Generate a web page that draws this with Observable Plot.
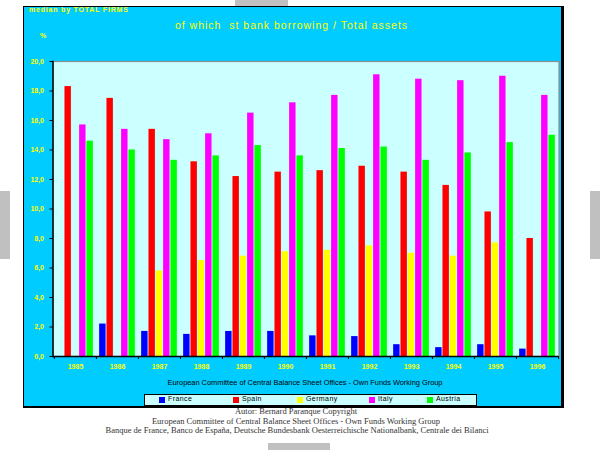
<!DOCTYPE html>
<html>
<head>
<meta charset="utf-8">
<script src="https://cdn.jsdelivr.net/npm/d3@7"></script>
<script src="https://cdn.jsdelivr.net/npm/@observablehq/plot@0.6"></script>
<style>
  body { margin: 0; background: #fff; }
  #wrap { position: relative; width: 600px; height: 450px; overflow: hidden; }
  .abs { position: absolute; white-space: nowrap; }
  .gray { position: absolute; background: #c0c0c0; }
  .px { font-family: "Liberation Sans", sans-serif; font-weight: bold; font-size: 7px; color: #ffff00; }
  .serif { font-family: "Liberation Serif", serif; font-size: 8.5px; color: #333; line-height: 10px; }
</style>
</head>
<body>
<div id="wrap">
  <div class="gray" style="left:235px;top:0;width:53px;height:6px"></div>
  <div class="gray" style="left:0;top:191px;width:10px;height:68px"></div>
  <div class="gray" style="left:590px;top:191px;width:10px;height:68px"></div>
  <div class="gray" style="left:268px;top:443px;width:62px;height:7px"></div>
  <div class="abs" style="left:23px;top:6px;width:537px;height:399px;background:#00ccff;border-top:1.5px solid #000;border-left:1px solid #000;border-right:3px solid #000;border-bottom:2px solid #000"></div>
  <div id="chart" class="abs" style="left:0;top:0"></div>
  <div class="abs px" style="left:29px;top:6px;line-height:8px;letter-spacing:0.8px">median by TOTAL FIRMS</div>
  <div class="abs" style="left:291.5px;top:19px;transform:translateX(-50%);font-family:'Liberation Sans',sans-serif;font-size:10.5px;line-height:12px;color:#ffff00;letter-spacing:1px">of which&nbsp; st bank borrowing / Total assets</div>
  <div class="abs px" style="left:40px;top:32px;line-height:8px">%</div>
  <div class="abs" style="left:305px;top:379px;transform:translateX(-50%);font-family:'Liberation Sans',sans-serif;font-size:7.4px;line-height:8px;color:#000">European Committee of Central Balance Sheet Offices - Own Funds Working Group</div>
  <div id="legend" class="abs" style="left:144px;top:394px;width:331px;height:10px;background:#ccffff;border:1.5px solid #000"></div>
  <div class="abs serif" style="left:296px;top:406px;transform:translateX(-50%)">Autor: Bernard Paranque Copyright</div>
  <div class="abs serif" style="left:296px;top:416px;transform:translateX(-50%)">European Committee of Central Balance Sheet Offices - Own Funds Working Group</div>
  <div class="abs serif" style="left:297px;top:425px;transform:translateX(-50%)">Banque de France, Banco de España, Deutsche Bundesbank Oesterreichische Nationalbank, Centrale dei Bilanci</div>
</div>
<script>
const years = ["1985","1986","1987","1988","1989","1990","1991","1992","1993","1994","1995","1996"];
const countries = ["France","Spain","Germany","Italy","Austria"];
const colors = ["#0000ff","#ff0000","#ffff00","#ff00ff","#00ff00"];
const france  = [null, 2.2, 1.7, 1.5, 1.7, 1.7, 1.4, 1.35, 0.8, 0.6, 0.8, 0.5];
const spain   = [18.3, 17.5, 15.4, 13.2, 12.2, 12.5, 12.6, 12.9, 12.5, 11.6, 9.8, 8.0];
const germany = [null, null, 5.8, 6.5, 6.8, 7.1, 7.2, 7.5, 7.0, 6.8, 7.7, null];
const italy   = [15.7, 15.4, 14.7, 15.1, 16.5, 17.2, 17.7, 19.1, 18.8, 18.7, 19.0, 17.7];
const austria = [14.6, 14.0, 13.3, 13.6, 14.3, 13.6, 14.1, 14.2, 13.3, 13.8, 14.5, 15.0];
const yTicks = [0, 2, 4, 6, 8, 10, 12, 14, 16, 18, 20];

const series = [france, spain, germany, italy, austria];
const table = [];
countries.forEach((c, i) => years.forEach((y, j) => {
  if (series[i][j] != null) table.push({year: y, country: c, value: series[i][j]});
}));

const W = 600, H = 450, mL = 52.5, mR = 41.5, mT = 61, mB = 94;
const bw = (W - mL - mR) / years.length;
const inner = d3.scaleBand().domain(countries).range([0, bw]).paddingInner(0.1).paddingOuter(0.43);

const bars = countries.map((c, i) => Plot.barY(table.filter(d => d.country === c), {
  x: "year", y: "value", fill: colors[i],
  insetLeft: inner(c), insetRight: bw - inner(c) - inner.bandwidth()
}));

const fmt = d => d.toFixed(1).replace(".", ",");

const chart = Plot.plot({
  width: W, height: H, marginLeft: mL, marginRight: mR, marginTop: mT, marginBottom: mB,
  style: {background: "transparent", fontFamily: "Liberation Sans, sans-serif", fontSize: "7px", fontWeight: "bold", overflow: "visible"},
  x: {domain: years, padding: 0, axis: null},
  y: {domain: [0, 20], axis: null},
  marks: [
    Plot.frame({fill: "#ccffff", stroke: "#8c8c8c", strokeWidth: 1.2}),
    ...bars,
    Plot.ruleY([0], {stroke: "#000", strokeWidth: 1.5}),
    Plot.frame({anchor: "left", stroke: "#000", strokeWidth: 1.5}),
    Plot.axisY({ticks: yTicks, tickSize: 3, tickFormat: () => "", color: "#000", label: null}),
    Plot.axisY({ticks: yTicks, tickSize: 0, tickPadding: 9, tickFormat: fmt, color: "#ffff00", label: null}),
    Plot.axisX({tickSize: 3, tickFormat: () => "", dx: -bw / 2, color: "#000", label: null}),
    Plot.axisX({ticks: [years[years.length - 1]], tickSize: 3, tickFormat: () => "", dx: bw / 2, color: "#000", label: null}),
    Plot.axisX({tickSize: 0, tickPadding: 8, color: "#ffff00", label: null})
  ]
});
document.getElementById("chart").appendChild(chart);

const legend = document.getElementById("legend");
const lx = [14, 88, 152, 224, 282];
countries.forEach((c, i) => {
  const sw = document.createElement("div");
  sw.style.cssText = `position:absolute;left:${lx[i]}px;top:2px;width:6px;height:6px;background:${colors[i]}`;
  legend.appendChild(sw);
  const t = document.createElement("div");
  t.textContent = c;
  t.style.cssText = `position:absolute;left:${lx[i] + 9}px;top:-0.5px;font-family:'Liberation Sans',sans-serif;font-size:7px;line-height:8px;color:#000;letter-spacing:0.4px`;
  legend.appendChild(t);
});
</script>
</body>
</html>
